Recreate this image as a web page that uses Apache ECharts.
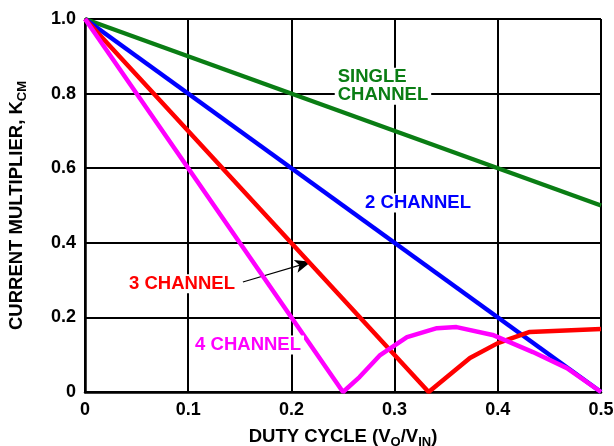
<!DOCTYPE html>
<html><head><meta charset="utf-8">
<script src="https://cdn.jsdelivr.net/npm/echarts@6/dist/echarts.min.js"></script>
<style>html,body{margin:0;padding:0;background:#fff;}#c{width:614px;height:446px;}</style>
</head><body><div id="c"></div>
<script>
// Data
var singleX = [0, 0.5];
var singleY = [1.0, 0.5];
var twoX = [0, 0.5];
var twoY = [1.0, 0];
var threeX = [0, 0.333, 0.373, 0.4, 0.431, 0.5];
var threeY = [1.0, 0, 0.091, 0.131, 0.161, 0.169];
var fourX = [0, 0.25, 0.266, 0.286, 0.312, 0.341, 0.36, 0.395, 0.434, 0.467, 0.5];
var fourY = [1.0, 0, 0.04, 0.099, 0.147, 0.171, 0.174, 0.153, 0.107, 0.064, 0];
var xTickLabels = ['0', '0.1', '0.2', '0.3', '0.4', '0.5'];
var yTickLabels = ['0', '0.2', '0.4', '0.6', '0.8', '1.0'];
var labelTexts = ['SINGLE\nCHANNEL', '2 CHANNEL', '3 CHANNEL', '4 CHANNEL'];

function pairs(xs, ys) { return xs.map(function (x, i) { return [x, ys[i]]; }); }

var FONT = '"Liberation Sans", Arial, Helvetica, sans-serif';
var lblBase = { fontFamily: FONT, fontWeight: 'bold', fontSize: 18.5, backgroundColor: '#fff', padding: [1, 3, 0, 3], lineHeight: 18 };

function mp(coord, text, color, align) {
  return {
    coord: coord, symbol: 'circle', symbolSize: 0,
    label: Object.assign({ show: true, formatter: text, color: color, position: 'inside', align: align || 'center', verticalAlign: 'middle' }, lblBase)
  };
}

var chart = echarts.init(document.getElementById('c'), null, { renderer: 'canvas' });
chart.setOption({
  animation: false,
  backgroundColor: '#fff',
  grid: { left: 85, right: 13, top: 19, bottom: 54, containLabel: false, outerBoundsMode: 'none' },
  xAxis: {
    type: 'value', min: 0, max: 0.5, interval: 0.1,
    axisLine: { show: true, lineStyle: { color: '#000', width: 2.5 } },
    axisTick: { show: false },
    splitLine: { show: true, lineStyle: { color: '#000', width: 2 } },
    axisLabel: {
      color: '#000', fontFamily: FONT, fontWeight: 'bold', fontSize: 18, margin: 9,
      formatter: function (v) { return xTickLabels[Math.round(v * 10)]; }
    },
    name: '{a|DUTY CYCLE (V}{s|O}{a|/V}{s|IN}{a|)}',
    nameLocation: 'middle', nameGap: 35,
    nameTextStyle: {
      rich: {
        a: { fontFamily: FONT, fontWeight: 'bold', fontSize: 18.5, color: '#000', lineHeight: 20 },
        s: { fontFamily: FONT, fontWeight: 'bold', fontSize: 13, color: '#000', lineHeight: 20, padding: [10, 0, 0, 0] }
      }
    }
  },
  yAxis: {
    type: 'value', min: 0, max: 1.0, interval: 0.2,
    axisLine: { show: true, lineStyle: { color: '#000', width: 2.5 } },
    axisTick: { show: false },
    splitLine: { show: true, lineStyle: { color: '#000', width: 2 } },
    axisLabel: {
      color: '#000', fontFamily: FONT, fontWeight: 'bold', fontSize: 18, margin: 9,
      formatter: function (v) { return yTickLabels[Math.round(v * 5)]; }
    },
    name: '{a|CURRENT MULTIPLIER, K}{s|CM}',
    nameLocation: 'middle', nameGap: 58,
    nameTextStyle: {
      rich: {
        a: { fontFamily: FONT, fontWeight: 'bold', fontSize: 18.5, color: '#000', lineHeight: 20 },
        s: { fontFamily: FONT, fontWeight: 'bold', fontSize: 13, color: '#000', lineHeight: 20, padding: [10, 0, 0, 0] }
      }
    }
  },
  series: [
    {
      type: 'line', data: pairs(singleX, singleY), symbol: 'none',
      lineStyle: { color: '#0a7d14', width: 4.5 }, z: 3,
      markPoint: { data: [mp([0.242, 0.82], labelTexts[0], '#0a7d14', 'left')], z: 10 }
    },
    {
      type: 'line', data: pairs(twoX, twoY), symbol: 'none',
      lineStyle: { color: '#0000ff', width: 4.5 }, z: 4,
      markPoint: { data: [mp([0.3227, 0.507], labelTexts[1], '#0000ff')], z: 10 }
    },
    {
      type: 'line', data: pairs(threeX, threeY), symbol: 'none',
      lineStyle: { color: '#ff0000', width: 4.5 }, z: 5,
      markPoint: { data: [mp([0.094, 0.29], labelTexts[2], '#ff0000')], z: 10 },
      markLine: {
        silent: true, symbol: ['none', 'arrow'], symbolSize: [10, 16],
        label: { show: false },
        lineStyle: { color: '#000', width: 1.2, type: 'solid' },
        data: [[{ coord: [0.153, 0.295] }, { coord: [0.219, 0.349] }]]
      }
    },
    {
      type: 'line', data: pairs(fourX, fourY), symbol: 'none',
      lineStyle: { color: '#ff00ff', width: 4.5 }, z: 6,
      markPoint: { data: [mp([0.158, 0.126], labelTexts[3], '#ff00ff')], z: 10 }
    }
  ]
});
</script>
</body></html>
